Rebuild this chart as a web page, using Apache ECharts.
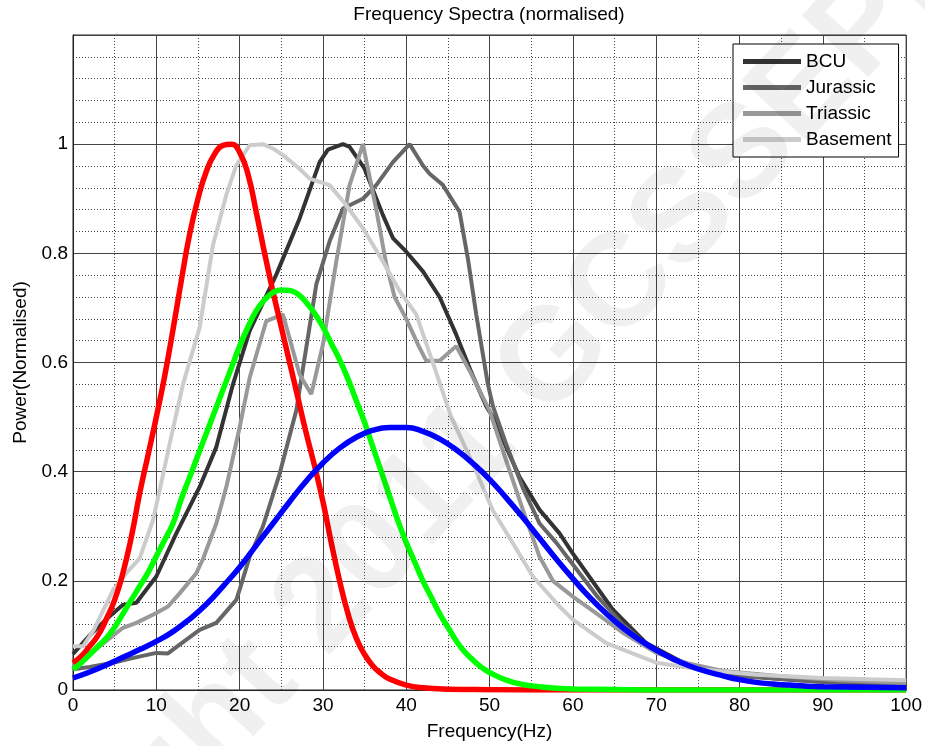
<!DOCTYPE html>
<html><head><meta charset="utf-8">
<script src="https://cdn.jsdelivr.net/npm/echarts@6/dist/echarts.min.js"></script>
<style>html,body{margin:0;padding:0;background:#fff}#c{width:925px;height:746px}</style>
</head><body><div id="c"></div><script>
// ---- data (frequency Hz, normalised power) ----
const xTicks = [0,10,20,30,40,50,60,70,80,90,100];
const yTicks = [0,0.2,0.4,0.6,0.8,1];
const legendNames = ['BCU','Jurassic','Triassic','Basement'];

const bcu = [[0,0.066],[2,0.1],[4.4,0.135],[6,0.156],[7.6,0.16],[10,0.208],[12.4,0.287],[15.2,0.372],[17.2,0.445],[19.2,0.56],[21.2,0.658],[24.4,0.761],[27.2,0.864],[29.6,0.967],[30.6,0.99],[32.4,1.0],[33.2,0.995],[35,0.955],[37.2,0.87],[38.4,0.828],[40,0.803],[42,0.767],[44,0.72],[46,0.651],[48,0.575],[49.6,0.52],[50.4,0.5],[53.6,0.39],[56,0.33],[58.4,0.287],[60,0.25],[64.8,0.147],[68.8,0.086],[74,0.044],[78,0.03],[85,0.02],[92,0.013],[100,0.01]];
const jurassic = [[0,0.038],[2,0.042],[4.8,0.05],[7,0.058],[10,0.068],[11.4,0.067],[12.8,0.083],[15.2,0.11],[17.2,0.123],[19.6,0.165],[20,0.184],[21.2,0.244],[22.8,0.3],[24.8,0.396],[26.8,0.512],[29.2,0.743],[30.8,0.822],[32.4,0.882],[34.8,0.9],[36.4,0.925],[38.4,0.967],[40.4,1.0],[42,0.961],[42.8,0.946],[44.4,0.925],[46.4,0.876],[47.4,0.79],[48.4,0.688],[49.8,0.56],[50.4,0.52],[52,0.45],[54,0.37],[56,0.305],[58,0.27],[60,0.23],[63,0.17],[66,0.12],[69,0.08],[72,0.055],[76,0.035],[80,0.025],[90,0.015],[100,0.012]];
const triassic = [[0,0.044],[2,0.065],[4,0.09],[6,0.114],[7.6,0.123],[10,0.141],[11.4,0.153],[12.8,0.177],[14.8,0.214],[15.6,0.24],[17.2,0.305],[18.4,0.372],[20,0.481],[21.2,0.572],[23.2,0.676],[25.2,0.688],[27.2,0.578],[28.6,0.542],[30,0.633],[31.6,0.785],[33.2,0.925],[34.8,1.0],[36.4,0.88],[37.6,0.78],[38.6,0.72],[40,0.68],[41.5,0.63],[42.4,0.603],[44,0.603],[46,0.63],[47.6,0.585],[50,0.512],[52,0.42],[54,0.33],[56,0.244],[57.6,0.2],[60,0.171],[62.4,0.145],[66,0.105],[70,0.068],[74,0.048],[78,0.035],[85,0.025],[92,0.018],[100,0.013]];
const basement = [[0,0.08],[1.2,0.08],[2.5,0.11],[4.8,0.183],[6.4,0.214],[8,0.241],[9.6,0.311],[10.4,0.366],[11.6,0.451],[13.2,0.56],[15.2,0.664],[16.8,0.815],[18.4,0.907],[19.6,0.961],[21.2,0.998],[22.8,1.0],[24,0.992],[25.2,0.98],[27.2,0.955],[28.4,0.937],[30.8,0.925],[32.8,0.888],[34.8,0.846],[37.2,0.785],[39.2,0.731],[41.2,0.688],[43.4,0.59],[45.4,0.5],[48,0.414],[50.4,0.329],[52.8,0.269],[55.2,0.208],[58.4,0.153],[60,0.129],[64,0.086],[70,0.05],[75.2,0.038],[82,0.028],[90,0.022],[100,0.018]];

const red = [[0,0.05],[1,0.062],[2,0.08],[3,0.1],[4,0.13],[5,0.165],[6,0.215],[7,0.28],[8,0.36],[9,0.43],[10,0.5],[11,0.575],[12,0.66],[13,0.75],[14,0.835],[15,0.9],[16,0.95],[17,0.982],[18,0.998],[19,1.0],[20,0.985],[21,0.945],[22,0.875],[23,0.8],[24,0.73],[25,0.665],[26,0.6],[27,0.535],[28,0.47],[29,0.41],[30,0.345],[31,0.27],[32,0.2],[33,0.14],[34,0.095],[35,0.065],[36,0.044],[37,0.03],[38,0.02],[40,0.009],[42,0.004],[45,0.0015],[50,0.0005],[55,0],[100,0]];
const green = [[0,0.038],[1,0.05],[2,0.065],[3,0.08],[4,0.095],[5,0.115],[6,0.14],[7,0.165],[8,0.19],[9,0.215],[10,0.245],[11,0.275],[12,0.305],[13,0.35],[14,0.39],[15,0.43],[16,0.47],[17,0.51],[18,0.55],[19,0.59],[20,0.63],[21,0.665],[22,0.695],[23,0.715],[24,0.728],[25,0.733],[26,0.732],[27,0.725],[28,0.71],[29,0.69],[30,0.665],[31,0.635],[32,0.605],[33,0.57],[34,0.53],[35,0.49],[36,0.445],[37,0.4],[38,0.355],[39,0.31],[40,0.27],[41,0.235],[42,0.2],[43,0.17],[44,0.14],[45,0.115],[46,0.09],[47,0.07],[48,0.055],[49,0.042],[50,0.032],[52,0.018],[54,0.01],[56,0.006],[58,0.003],[60,0.002],[65,0.001],[70,0],[100,0]];
const blue = [[0,0.022],[2,0.033],[4,0.046],[6,0.06],[8,0.074],[10,0.089],[12,0.107],[14,0.13],[16,0.157],[18,0.19],[20,0.225],[22,0.265],[24,0.305],[26,0.345],[28,0.383],[30,0.416],[32,0.443],[34,0.463],[36,0.476],[38,0.481],[40,0.481],[42,0.474],[44,0.46],[46,0.44],[48,0.415],[50,0.386],[52,0.352],[54,0.316],[56,0.278],[58,0.24],[60,0.204],[62,0.17],[64,0.14],[66,0.114],[68,0.092],[70,0.073],[72,0.057],[74,0.044],[76,0.034],[78,0.026],[80,0.019],[82,0.014],[84,0.011],[86,0.009],[88,0.007],[90,0.006],[95,0.005],[100,0.004]];

const FONT = 'Liberation Sans, Arial, Helvetica, sans-serif';
const chart = echarts.init(document.getElementById('c'), null, {renderer:'canvas'});

function grayLine(name, data, color){
  return {name, type:'line', data, showSymbol:false, smooth:false, clip:true,
    lineStyle:{color, width:4}, itemStyle:{color}, emphasis:{disabled:true}};
}
function colLine(data, color){
  return {type:'line', data, showSymbol:false, smooth:0.5, clip:true,
    lineStyle:{color, width:5.5}, itemStyle:{color}, emphasis:{disabled:true}};
}

chart.setOption({
  animation:false,
  backgroundColor:'#fff',
  grid:{left:73, right:18, top:35, bottom:52, show:true, borderColor:'#222', borderWidth:1, backgroundColor:'transparent'},
  xAxis:{type:'value', min:xTicks[0], max:xTicks[xTicks.length-1], interval:10,
    name:'Frequency(Hz)', nameLocation:'middle', nameGap:32,
    nameTextStyle:{fontSize:19, color:'#000', fontFamily:FONT},
    axisLine:{show:true, lineStyle:{color:'#222'}}, axisTick:{show:false},
    axisLabel:{fontSize:19, color:'#000', fontFamily:FONT, margin:6},
    splitLine:{show:true, lineStyle:{color:'#444', width:1}},
    minorTick:{show:false, splitNumber:2},
    minorSplitLine:{show:true, lineStyle:{color:'#444', width:1, type:[1,2]}}},
  yAxis:{type:'value', min:0, max:1.2, interval:0.2,
    name:'Power(Normalised)', nameLocation:'middle', nameGap:38,
    nameTextStyle:{fontSize:19, color:'#000', fontFamily:FONT},
    axisLine:{show:true, lineStyle:{color:'#222'}}, axisTick:{show:false},
    axisLabel:{fontSize:19, color:'#000', fontFamily:FONT, margin:5,
      formatter:v=>{const r=Math.round(v*10)/10; return yTicks.indexOf(r)>=0 ? String(r) : '';}},
    splitLine:{show:true, lineStyle:{color:'#444', width:1}},
    minorTick:{show:false, splitNumber:5},
    minorSplitLine:{show:true, lineStyle:{color:'#444', width:1, type:[1,2]}}},
  legend:{orient:'vertical', left:733, top:44, padding:[8,7,8,10], itemGap:7,
    itemWidth:58, itemHeight:5, icon:'rect', selectedMode:false,
    backgroundColor:'#fff', borderColor:'#000', borderWidth:1,
    textStyle:{fontSize:19, color:'#000', fontFamily:FONT}, data:legendNames},
  graphic:[
    {type:'text', x:489, y:15, style:{text:'Frequency Spectra (normalised)', fontSize:19, fontFamily:FONT, fill:'#000', textAlign:'center', textVerticalAlign:'middle'}},
    {type:'text', x:410, y:515, rotation:47*Math.PI/180, silent:true, z:100,
      style:{text:'Copyright 2011 GCSSEPM', fontSize:132, fontWeight:'bold', fontFamily:FONT,
        fill:'rgba(0,0,0,0.06)', textAlign:'center', textVerticalAlign:'middle'}}
  ],
  series:[
    grayLine(legendNames[0], bcu, '#333333'),
    grayLine(legendNames[1], jurassic, '#666666'),
    grayLine(legendNames[2], triassic, '#999999'),
    grayLine(legendNames[3], basement, '#cccccc'),
    colLine(red, '#ff0000'),
    colLine(green, '#00ff00'),
    colLine(blue, '#0000ff')
  ]
});
</script></body></html>
